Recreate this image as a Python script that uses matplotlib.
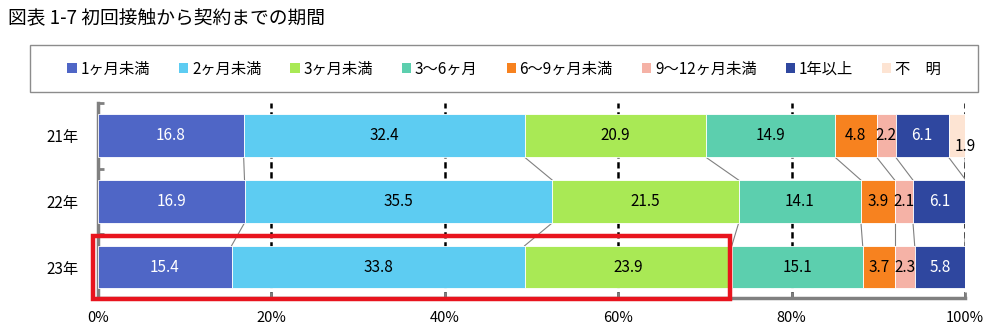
import matplotlib
matplotlib.use("Agg")
import matplotlib.pyplot as plt
from matplotlib.patches import Patch, Rectangle
import numpy as np

plt.rcParams['font.family'] = ['Noto Sans CJK JP', 'DejaVu Sans']

years = ["21年", "22年", "23年"]
series = ["1ヶ月未満", "2ヶ月未満", "3ヶ月未満", "3～6ヶ月", "6～9ヶ月未満",
          "9～12ヶ月未満", "1年以上", "不　明"]
values = {
    "1ヶ月未満": [16.8, 16.9, 15.4],
    "2ヶ月未満": [32.4, 35.5, 33.8],
    "3ヶ月未満": [20.9, 21.5, 23.9],
    "3～6ヶ月": [14.9, 14.1, 15.1],
    "6～9ヶ月未満": [4.8, 3.9, 3.7],
    "9～12ヶ月未満": [2.2, 2.1, 2.3],
    "1年以上": [6.1, 6.1, 5.8],
    "不　明": [1.9, 0.0, 0.0],
}
colors = ["#4F66C6", "#5DCCF2", "#A9E955", "#5CCFAE", "#F7821F",
          "#F5B2A6", "#2F479F", "#FDE4D3"]
label_colors = ["white", "black", "black", "black", "black", "black", "white", "black"]
xticks = [0, 20, 40, 60, 80, 100]

fig = plt.figure(figsize=(9.89, 3.32), dpi=100)
ax = fig.add_axes([98 / 989, 1 - 298 / 332, 867 / 989, 195 / 332])

y = np.arange(len(years))
bh = 0.65
left = np.zeros(len(years))
for name, c, lc in zip(series, colors, label_colors):
    v = np.array(values[name])
    ax.barh(y, v, left=left, height=bh, color=c, edgecolor="white", linewidth=0.6, zorder=3)
    for i in range(len(years)):
        if v[i] <= 0:
            continue
        if name == "不　明":
            ax.text(left[i] + v[i], y[i] + 0.17, f"{v[i]:.1f}", ha="center", va="center",
                    fontsize=11, color=lc, zorder=5)
        else:
            ax.text(left[i] + v[i] / 2, y[i], f"{v[i]:.1f}", ha="center", va="center",
                    fontsize=11, color=lc, zorder=5)
    left = left + v
    # series lines between bars
    for i in range(len(years) - 1):
        ax.plot([left[i], left[i + 1]], [y[i] + bh / 2, y[i + 1] - bh / 2],
                color="#808080", lw=0.8, zorder=2)

ax.set_xlim(0, 100)
ax.set_ylim(2.47, -0.5)
ax.set_yticks(y)
ax.set_yticklabels(years, fontsize=11)
ax.set_xticks(xticks)
ax.set_xticklabels([f"{t}%" for t in xticks], fontsize=10.5)
ax.tick_params(axis="x", direction="in", length=4, width=2, color="#808080", pad=9)
ax.tick_params(axis="y", length=0, pad=14)
ax.set_yticks([-0.5, 0.5, 1.5, 2.47], minor=True)
ax.tick_params(axis="y", which="minor", direction="in", length=4, width=2, color="#808080")

for xv in xticks[1:]:
    ax.axvline(xv, color="black", lw=1.8, ls=(0, (2.5, 1.5)), zorder=1)

for s in ["top", "right"]:
    ax.spines[s].set_visible(False)
for s in ["left", "bottom"]:
    ax.spines[s].set_color("#808080")
    ax.spines[s].set_linewidth(2.5)

# highlight box around 23年 (first three segments)
ax.add_patch(Rectangle((-0.6, 1.53), 73.5, 0.95, fill=False, edgecolor="#E8141E",
                       lw=3.2, zorder=6, clip_on=False))

# legend box
fig.patches.append(Rectangle((30 / 989, 1 - 92 / 332), 948 / 989, 47 / 332,
                             transform=fig.transFigure, fill=False,
                             edgecolor="#8C8C8C", lw=1.0))
handles = [Patch(facecolor=c, edgecolor="none") for c in colors]
fig.legend(handles, series, loc="center", bbox_to_anchor=(504 / 989, 1 - 69 / 332),
           ncol=8, frameon=False, fontsize=11, handlelength=0.6, handleheight=0.6,
           handletextpad=0.25, columnspacing=1.9)

fig.text(8 / 989, 1 - 18 / 332, "図表 1-7 初回接触から契約までの期間", fontsize=13.5,
         ha="left", va="center", color="black")

fig.savefig("out.png", dpi=100)
